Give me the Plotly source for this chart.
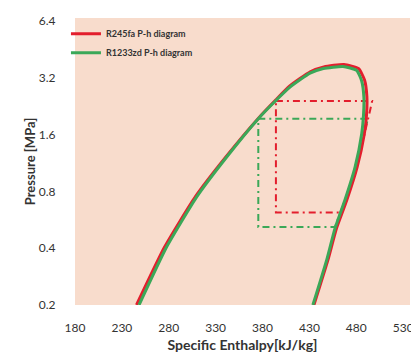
import plotly.graph_objects as go

# Saturation dome data (specific enthalpy kJ/kg, pressure MPa)
r1233_h = [248.3, 277.8, 309.8, 341.8, 375.5, 394.3, 409.3, 430.7, 444.9, 465.8,
           480.4, 485.7, 488.1, 487.7, 485.8, 478.7, 467.9, 457.3, 448.4, 433.7]
r1233_p = [0.2, 0.407, 0.749, 1.219, 1.946, 2.43, 2.86, 3.39, 3.59, 3.68,
           3.51, 3.09, 2.53, 2.03, 1.62, 1.076, 0.72, 0.51, 0.346, 0.2]

r245_h = [245.6, 275.7, 308.3, 340.9, 375.2, 394.3, 409.1, 430.9, 445.4, 466.8,
          482.6, 488.8, 491.3, 490.9, 488.6, 480.9, 469.9, 458.9, 449.7, 434.8]
r245_p = [0.2, 0.407, 0.749, 1.219, 1.946, 2.45, 2.90, 3.45, 3.66, 3.77,
          3.58, 3.12, 2.55, 2.03, 1.62, 1.076, 0.72, 0.51, 0.346, 0.2]

# Cycle paths
r245_cycle_h = [394.3, 496.9, 494.7, 484.0, 473.4, 464.8, 394.3, 394.3]
r245_cycle_p = [2.413, 2.413, 2.15, 1.277, 0.845, 0.619, 0.619, 2.413]

r1233_cycle_h = [375.5, 492.8, 489.3, 478.6, 457.3, 375.5, 375.5]
r1233_cycle_p = [1.946, 1.946, 1.73, 1.0, 0.519, 0.519, 1.946]

x_ticks = [180, 230, 280, 330, 380, 430, 480, 530]
y_ticks = [0.2, 0.4, 0.8, 1.6, 3.2, 6.4]
y_ticktext = ["0.2", "0.4", "0.8", "1.6", "3.2", "6.4"]

RED = "#E31E2D"
GREEN = "#3BA858"
BG = "#F8DCCC"

fig = go.Figure()
fig.add_trace(go.Scatter(x=r245_cycle_h, y=r245_cycle_p, mode="lines",
                         line=dict(color=RED, width=2, dash="7px,4px,2px,4px"),
                         showlegend=False, hoverinfo="skip"))
fig.add_trace(go.Scatter(x=r1233_cycle_h, y=r1233_cycle_p, mode="lines",
                         line=dict(color=GREEN, width=2, dash="7px,4px,2px,4px"),
                         showlegend=False, hoverinfo="skip"))
fig.add_trace(go.Scatter(x=r245_h, y=r245_p, mode="lines", name="R245fa P-h diagram",
                         line=dict(color=RED, width=3, shape="spline", smoothing=0.5)))
fig.add_trace(go.Scatter(x=r1233_h, y=r1233_p, mode="lines", name="R1233zd P-h diagram",
                         line=dict(color=GREEN, width=3, shape="spline", smoothing=0.5)))

fig.update_layout(
    width=411, height=346,
    margin=dict(l=67, r=9, t=10, b=49),
    paper_bgcolor="white",
    plot_bgcolor=BG,
    font=dict(family="Lato, sans-serif", color="#333333"),
    showlegend=True,
    legend=dict(x=-0.027, y=0.996, xanchor="left", yanchor="top",
                bgcolor="rgba(0,0,0,0)",
                font=dict(size=9, color="#333333", family="Lato, sans-serif", weight="bold"),
                itemwidth=30, tracegroupgap=0, traceorder="normal"),
    xaxis=dict(range=[180, 537.3], tickvals=x_ticks,
               showgrid=False, zeroline=False, ticklabeloverflow="allow",
               showline=False, ticks="outside", ticklen=12, tickcolor="rgba(0,0,0,0)",
               automargin=False,
               tickfont=dict(size=12, color="#333333"),
               title=dict(text="Specific Enthalpy[kJ/kg]", standoff=5,
                          font=dict(size=14, color="#333333", weight="bold"))),
    yaxis=dict(type="log", range=[-0.69897, 0.8228], tickvals=y_ticks, ticktext=y_ticktext,
               showgrid=False, zeroline=False, showline=False, ticks="outside",
               ticklen=16, tickcolor="rgba(0,0,0,0)", automargin=False,
               tickfont=dict(size=12, color="#333333"),
               title=dict(text="Pressure [MPa]", standoff=0,
                          font=dict(size=13, color="#333333", weight="bold"))),
)

fig.write_html("out.html")
